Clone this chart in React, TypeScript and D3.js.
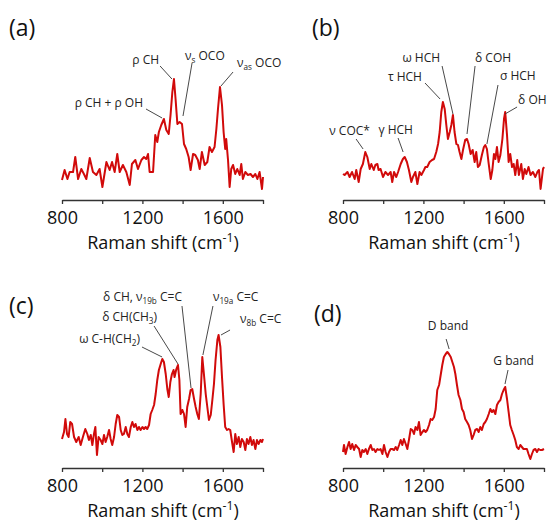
import React, { useEffect, useRef } from "react";
import * as d3 from "d3";

// Raman spectra: [shift (cm-1), intensity (a.u.)]
const spectrumA: [number, number][] = [
  [800, 17], [813, 27], [827, 18], [838, 25], [855, 25], [866, 40], [880, 18], [896, 28], [909, 23], [921, 18],
  [938, 39], [954, 25], [971, 22], [987, 28], [1001, 10], [1021, 35], [1037, 27], [1049, 35], [1062, 25], [1075, 43],
  [1087, 25], [1103, 32], [1120, 25], [1137, 12], [1148, 33], [1165, 37], [1178, 28], [1195, 37], [1208, 40], [1219, 38],
  [1228, 43], [1236, 25], [1253, 25], [1264, 62], [1274, 55], [1282, 65], [1294, 72], [1307, 78], [1319, 67], [1331, 63],
  [1340, 82], [1349, 105], [1357, 118], [1365, 98], [1374, 73], [1385, 75], [1397, 73], [1407, 53], [1418, 48], [1430, 40],
  [1440, 27], [1452, 43], [1463, 42], [1476, 37], [1485, 28], [1496, 45], [1510, 32], [1523, 35], [1534, 50], [1546, 45],
  [1559, 50], [1568, 68], [1576, 88], [1586, 110], [1596, 92], [1604, 65], [1612, 48], [1617, 58], [1626, 37], [1634, 10],
  [1642, 28], [1651, 32], [1662, 23], [1672, 28], [1684, 22], [1692, 33], [1700, 18], [1712, 25], [1725, 22], [1738, 23],
  [1750, 20], [1762, 23], [1772, 18], [1783, 25], [1795, 8], [1800, 20],
];

const spectrumB: [number, number][] = [
  [800, 23], [808, 22], [822, 25], [833, 20], [845, 25], [858, 18], [866, 27], [878, 15], [888, 28], [899, 33],
  [911, 45], [921, 40], [933, 28], [941, 33], [953, 27], [961, 32], [971, 33], [977, 27], [987, 28], [999, 20],
  [1011, 25], [1024, 22], [1037, 25], [1045, 15], [1054, 25], [1065, 20], [1074, 25], [1087, 33], [1098, 38], [1107, 40],
  [1118, 35], [1128, 27], [1140, 15], [1148, 20], [1160, 25], [1170, 13], [1181, 25], [1190, 22], [1203, 27], [1210, 30],
  [1219, 30], [1231, 35], [1243, 37], [1253, 38], [1264, 45], [1273, 53], [1281, 65], [1289, 85], [1297, 95], [1306, 88],
  [1314, 72], [1322, 58], [1331, 65], [1339, 72], [1347, 82], [1355, 65], [1364, 53], [1372, 52], [1380, 45], [1389, 38],
  [1397, 47], [1408, 57], [1417, 58], [1425, 53], [1435, 43], [1445, 47], [1455, 35], [1463, 45], [1471, 30], [1480, 32],
  [1491, 42], [1501, 50], [1508, 52], [1516, 48], [1525, 33], [1535, 18], [1543, 27], [1551, 43], [1558, 38], [1566, 50],
  [1574, 35], [1583, 42], [1593, 58], [1601, 78], [1607, 85], [1616, 62], [1624, 35], [1632, 43], [1641, 30], [1649, 33],
  [1657, 22], [1667, 37], [1675, 22], [1687, 33], [1695, 18], [1704, 28], [1712, 23], [1723, 30], [1733, 22], [1745, 25],
  [1757, 20], [1767, 25], [1775, 27], [1783, 8], [1795, 28], [1800, 30],
];

const spectrumC: [number, number][] = [
  [800, 26], [810, 33], [817, 46], [825, 31], [833, 28], [841, 43], [850, 41], [860, 28], [871, 23], [883, 28],
  [893, 20], [904, 28], [916, 36], [926, 31], [934, 25], [943, 30], [951, 20], [959, 31], [966, 38], [974, 10],
  [982, 28], [992, 25], [1001, 21], [1009, 30], [1017, 23], [1025, 28], [1034, 35], [1042, 26], [1050, 20], [1059, 28],
  [1067, 41], [1075, 50], [1084, 48], [1092, 35], [1100, 30], [1108, 31], [1117, 38], [1125, 31], [1133, 28], [1142, 38],
  [1150, 43], [1158, 38], [1166, 41], [1175, 35], [1183, 38], [1191, 35], [1200, 38], [1208, 36], [1216, 38], [1224, 36],
  [1233, 40], [1241, 51], [1249, 55], [1258, 60], [1266, 71], [1274, 85], [1282, 95], [1291, 101], [1299, 106], [1307, 103],
  [1316, 91], [1324, 76], [1331, 68], [1339, 83], [1347, 91], [1355, 95], [1360, 88], [1369, 96], [1377, 100], [1384, 85],
  [1390, 51], [1399, 55], [1407, 51], [1415, 38], [1423, 58], [1432, 66], [1440, 75], [1448, 76], [1457, 66], [1465, 58],
  [1473, 51], [1481, 46], [1490, 71], [1498, 108], [1506, 91], [1515, 71], [1523, 58], [1531, 45], [1540, 50], [1548, 65],
  [1556, 81], [1564, 105], [1573, 125], [1579, 130], [1588, 118], [1596, 88], [1604, 61], [1612, 38], [1621, 35], [1629, 36],
  [1637, 35], [1646, 23], [1654, 13], [1662, 31], [1670, 21], [1679, 28], [1687, 18], [1695, 26], [1704, 23], [1712, 15],
  [1720, 26], [1728, 21], [1737, 28], [1745, 20], [1753, 25], [1762, 16], [1770, 25], [1778, 21], [1787, 25], [1795, 23],
  [1800, 26],
];

const spectrumD: [number, number][] = [
  [800, 13], [805, 20], [813, 11], [822, 18], [830, 23], [838, 16], [846, 21], [855, 15], [863, 20], [871, 18],
  [880, 16], [888, 8], [896, 15], [904, 13], [913, 16], [921, 11], [929, 16], [938, 20], [946, 15], [954, 16],
  [962, 13], [971, 16], [979, 15], [987, 16], [996, 11], [1004, 20], [1012, 13], [1021, 8], [1029, 13], [1037, 16],
  [1045, 16], [1054, 15], [1062, 18], [1070, 15], [1079, 20], [1087, 25], [1095, 20], [1103, 26], [1112, 21], [1120, 16],
  [1128, 25], [1137, 36], [1145, 35], [1153, 31], [1161, 38], [1170, 35], [1178, 43], [1186, 30], [1195, 33], [1203, 35],
  [1211, 33], [1219, 35], [1228, 40], [1236, 46], [1244, 45], [1253, 48], [1261, 56], [1269, 75], [1278, 80], [1286, 90],
  [1294, 100], [1302, 108], [1311, 111], [1319, 113], [1327, 111], [1336, 108], [1344, 103], [1352, 98], [1359, 91], [1367, 80],
  [1375, 70], [1384, 65], [1392, 56], [1400, 53], [1408, 46], [1417, 43], [1425, 40], [1433, 35], [1442, 26], [1450, 30],
  [1458, 35], [1467, 36], [1475, 33], [1483, 38], [1491, 35], [1500, 41], [1508, 43], [1516, 46], [1525, 51], [1533, 56],
  [1541, 53], [1549, 55], [1558, 51], [1566, 60], [1574, 63], [1583, 65], [1591, 71], [1599, 75], [1607, 78], [1616, 66],
  [1624, 53], [1632, 40], [1640, 35], [1649, 30], [1657, 25], [1665, 18], [1674, 16], [1682, 20], [1690, 18], [1698, 16],
  [1707, 16], [1715, 16], [1723, 11], [1732, 6], [1740, 11], [1748, 15], [1757, 16], [1765, 13], [1773, 16], [1781, 15],
  [1790, 15], [1800, 16],
];

// peak assignments: label text, label anchor and leader line (shift, intensity)
type Note = { text: string; at: [number, number]; anchor: string; from: [number, number]; to: [number, number] };

const notesA: Note[] = [
  { text: "ρ CH + ρ OH", at: [1203, 90], anchor: "end", from: [1218, 88], to: [1298, 79] },
  { text: "ρ CH", at: [1283, 133], anchor: "end", from: [1288, 131], to: [1347, 118] },
  { text: "ν_{s} OCO", at: [1412, 137], anchor: "start", from: [1447, 134], to: [1402, 81] },
  { text: "ν_{as} OCO", at: [1671, 130], anchor: "start", from: [1651, 125], to: [1591, 111] },
];

const notesB: Note[] = [
  { text: "ν COC*", at: [934, 62], anchor: "end", from: [865, 58], to: [900, 48] },
  { text: "γ HCH", at: [1148, 63], anchor: "end", from: [1074, 59], to: [1099, 45] },
  { text: "τ HCH", at: [1193, 116], anchor: "end", from: [1208, 114], to: [1283, 98] },
  { text: "ω HCH", at: [1283, 135], anchor: "end", from: [1293, 131], to: [1347, 83] },
  { text: "δ COH", at: [1457, 135], anchor: "start", from: [1457, 131], to: [1417, 63] },
  { text: "σ HCH", at: [1581, 117], anchor: "start", from: [1571, 112], to: [1516, 53] },
  { text: "δ OH", at: [1671, 93], anchor: "start", from: [1666, 90], to: [1606, 83] },
];

const notesC: Note[] = [
  { text: "δ CH, ν_{19b} C=C", at: [1397, 164], anchor: "end", from: [1397, 159], to: [1442, 77] },
  { text: "δ CH(CH_{3})", at: [1273, 144], anchor: "end", from: [1258, 139], to: [1377, 101] },
  { text: "ω C-H(CH_{2})", at: [1188, 122], anchor: "end", from: [1198, 118], to: [1298, 108] },
  { text: "ν_{19a} C=C", at: [1551, 164], anchor: "start", from: [1551, 159], to: [1501, 110] },
  { text: "ν_{8b} C=C", at: [1686, 142], anchor: "start", from: [1636, 135], to: [1591, 130] },
];

const notesD: Note[] = [
  { text: "D band", at: [1323, 135], anchor: "middle", from: [1313, 126], to: [1328, 116] },
  { text: "G band", at: [1649, 100], anchor: "middle", from: [1621, 95], to: [1606, 81] },
];

const panelNames = ["(a)", "(b)", "(c)", "(d)"];
const tickShifts = [800, 1000, 1200, 1400, 1600, 1800];
const labelledShifts = [800, 1200, 1600];

const FONT = "'Open Sans', sans-serif";

function writeRich(text: any, str: string, size: number) {
  const parts = str.split(/(_\{[^}]*\}|\^\{[^}]*\})/).filter((p) => p.length);
  let shift = 0;
  parts.forEach((p) => {
    if (p.startsWith("_{") || p.startsWith("^{")) {
      const d = p.startsWith("_{") ? size * 0.28 : -size * 0.4;
      text.append("tspan").attr("dy", d - shift).attr("font-size", size * 0.68).text(p.slice(2, -1));
      shift = d;
    } else {
      text.append("tspan").attr("dy", -shift).text(p);
      shift = 0;
    }
  });
}

export default function App() {
  const ref = useRef<SVGSVGElement>(null);

  useEffect(() => {
    const svg = d3.select(ref.current);
    svg.selectAll("*").remove();

    const panels = [
      { name: panelNames[0], data: spectrumA, notes: notesA, left: 62, axisY: 200, nameX: 9, nameY: 36 },
      { name: panelNames[1], data: spectrumB, notes: notesB, left: 343, axisY: 200, nameX: 312, nameY: 36 },
      { name: panelNames[2], data: spectrumC, notes: notesC, left: 62, axisY: 468, nameX: 9, nameY: 314 },
      { name: panelNames[3], data: spectrumD, notes: notesD, left: 343, axisY: 468, nameX: 314, nameY: 322 },
    ];

    panels.forEach((p) => {
      const x = d3.scaleLinear().domain([800, 1800]).range([p.left, p.left + 201]);
      const y = d3.scaleLinear().domain([0, 170]).range([p.axisY - 3, p.axisY - 173]);
      const g = svg.append("g");

      g.append("text")
        .attr("x", p.nameX)
        .attr("y", p.nameY)
        .attr("font-family", FONT)
        .attr("font-size", 23)
        .attr("fill", "#111")
        .text(p.name);

      const axis = g
        .append("g")
        .attr("transform", `translate(0, ${p.axisY})`)
        .call(
          d3
            .axisBottom(x)
            .tickValues(tickShifts)
            .tickFormat((d: any) => (labelledShifts.includes(d) ? String(d) : ""))
            .tickSize(4)
            .tickSizeOuter(0)
            .tickPadding(7)
        );
      axis.select(".domain").attr("stroke", "#333").attr("stroke-width", 1.3);
      axis.selectAll(".tick line").attr("stroke", "#333").attr("stroke-width", 1.3);
      axis.selectAll(".tick text").attr("font-family", FONT).attr("font-size", 18).attr("fill", "#111");

      const title = g
        .append("text")
        .attr("x", p.left + 101)
        .attr("y", p.axisY + 49)
        .attr("text-anchor", "middle")
        .attr("font-family", FONT)
        .attr("font-size", 18)
        .attr("fill", "#111");
      writeRich(title, "Raman shift (cm^{-1})", 18);

      const line = d3
        .line<[number, number]>()
        .x((d) => x(d[0]))
        .y((d) => y(d[1]));

      g.append("path")
        .datum(p.data)
        .attr("d", line)
        .attr("fill", "none")
        .attr("stroke", "#d10a0a")
        .attr("stroke-width", 2)
        .attr("stroke-linejoin", "round");

      p.notes.forEach((n) => {
        g.append("line")
          .attr("x1", x(n.from[0]))
          .attr("y1", y(n.from[1]))
          .attr("x2", x(n.to[0]))
          .attr("y2", y(n.to[1]))
          .attr("stroke", "#333")
          .attr("stroke-width", 0.9);
        const t = g
          .append("text")
          .attr("x", x(n.at[0]))
          .attr("y", y(n.at[1]))
          .attr("text-anchor", n.anchor)
          .attr("font-family", FONT)
          .attr("font-size", 12)
          .attr("fill", "#222");
        writeRich(t, n.text, 12);
      });
    });
  }, []);

  return (
    <svg
      ref={ref}
      width={547}
      height={523}
      style={{ position: "absolute", left: 0, top: 0, background: "#fff" }}
    />
  );
}
